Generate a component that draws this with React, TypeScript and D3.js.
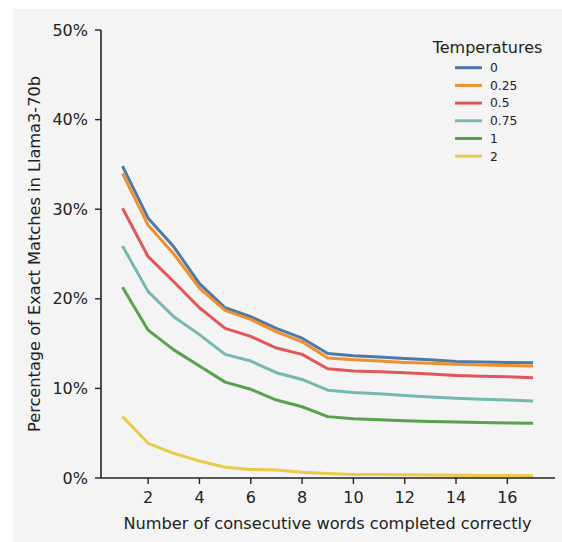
import React from "react";
import * as d3 from "d3";

const steps = [1, 2, 3, 4, 5, 6, 7, 8, 9, 10, 11, 12, 13, 14, 15, 16, 17];
const temperatures = ["0", "0.25", "0.5", "0.75", "1", "2"];
const colors = ["#4e79a7", "#f28e2b", "#e15759", "#76b7b2", "#59a14f", "#edc948"];
const t0 = [34.8, 29.0, 25.8, 21.7, 19.0, 18.0, 16.7, 15.6, 13.9, 13.65, 13.5, 13.35, 13.2, 13.0, 12.95, 12.9, 12.85];
const t025 = [34.0, 28.2, 25.0, 21.2, 18.7, 17.7, 16.3, 15.2, 13.4, 13.2, 13.05, 12.9, 12.8, 12.7, 12.6, 12.55, 12.5];
const t05 = [30.1, 24.7, 21.9, 19.0, 16.7, 15.8, 14.5, 13.8, 12.2, 11.95, 11.85, 11.75, 11.6, 11.45, 11.35, 11.3, 11.2];
const t075 = [25.9, 20.8, 18.0, 16.0, 13.8, 13.05, 11.75, 11.0, 9.8, 9.55, 9.4, 9.2, 9.05, 8.9, 8.8, 8.7, 8.6];
const t1 = [21.3, 16.5, 14.3, 12.5, 10.7, 9.9, 8.7, 7.95, 6.85, 6.6, 6.5, 6.4, 6.3, 6.25, 6.2, 6.15, 6.1];
const t2 = [6.85, 3.87, 2.75, 1.9, 1.2, 0.95, 0.88, 0.65, 0.5, 0.4, 0.38, 0.35, 0.33, 0.3, 0.28, 0.27, 0.26];
const series = [t0, t025, t05, t075, t1, t2];
const xTicks = [2, 4, 6, 8, 10, 12, 14, 16];
const yTicks = [0, 10, 20, 30, 40, 50];

const W = 562;
const H = 542;
const font = "DejaVu Sans, sans-serif";
const ink = "#222222";

export default function App() {
  const x = d3.scaleLinear().domain([1, 17]).range([122.5, 533]);
  const y = d3.scaleLinear().domain([0, 50]).range([478, 30]);
  const line = d3
    .line<number>()
    .x((_, i) => x(steps[i]))
    .y((d) => y(d));
  const axisLeft = 101;
  const axisBottom = 478;
  return (
    <svg
      width={W}
      height={H}
      style={{ position: "absolute", left: 0, top: 0, display: "block" }}
      fontFamily={font}
    >
      <rect x={0} y={0} width={W} height={H} fill="#ffffff" />
      <rect x={13} y={9} width={W - 13} height={H - 9} fill="#f4f4f4" />
      {series.map((s, k) => (
        <path
          key={k}
          d={line(s) || ""}
          fill="none"
          stroke={colors[k]}
          strokeWidth={3}
          strokeLinejoin="round"
        />
      ))}
      <line x1={axisLeft} x2={axisLeft} y1={y(50)} y2={axisBottom} stroke={ink} strokeWidth={1.6} />
      <line x1={axisLeft} x2={555} y1={axisBottom} y2={axisBottom} stroke={ink} strokeWidth={1.6} />
      {yTicks.map((t) => (
        <g key={t}>
          <line x1={axisLeft - 6} x2={axisLeft} y1={y(t)} y2={y(t)} stroke={ink} strokeWidth={1.4} />
          <text x={axisLeft - 13} y={y(t)} dy="0.35em" textAnchor="end" fontSize={16} fill={ink}>
            {t}%
          </text>
        </g>
      ))}
      {xTicks.map((t) => (
        <g key={t}>
          <line x1={x(t)} x2={x(t)} y1={axisBottom} y2={axisBottom + 6} stroke={ink} strokeWidth={1.4} />
          <text x={x(t)} y={axisBottom + 25} textAnchor="middle" fontSize={16} fill={ink}>
            {t}
          </text>
        </g>
      ))}
      <text x={(124 + 531) / 2} y={529} textAnchor="middle" fontSize={16.2} fill={ink}>
        Number of consecutive words completed correctly
      </text>
      <text
        transform={`translate(40,${(30 + 478) / 2}) rotate(-90)`}
        textAnchor="middle"
        fontSize={16.2}
        fill={ink}
      >
        Percentage of Exact Matches in Llama3-70b
      </text>
      <text x={487.5} y={53} textAnchor="middle" fontSize={16} fill={ink}>
        Temperatures
      </text>
      {temperatures.map((t, k) => (
        <g key={t}>
          <line x1={455} x2={482} y1={67.7 + k * 17.7} y2={67.7 + k * 17.7} stroke={colors[k]} strokeWidth={3} />
          <text x={490} y={67.7 + k * 17.7} dy="0.35em" fontSize={12.3} fill={ink}>
            {t}
          </text>
        </g>
      ))}
    </svg>
  );
}
